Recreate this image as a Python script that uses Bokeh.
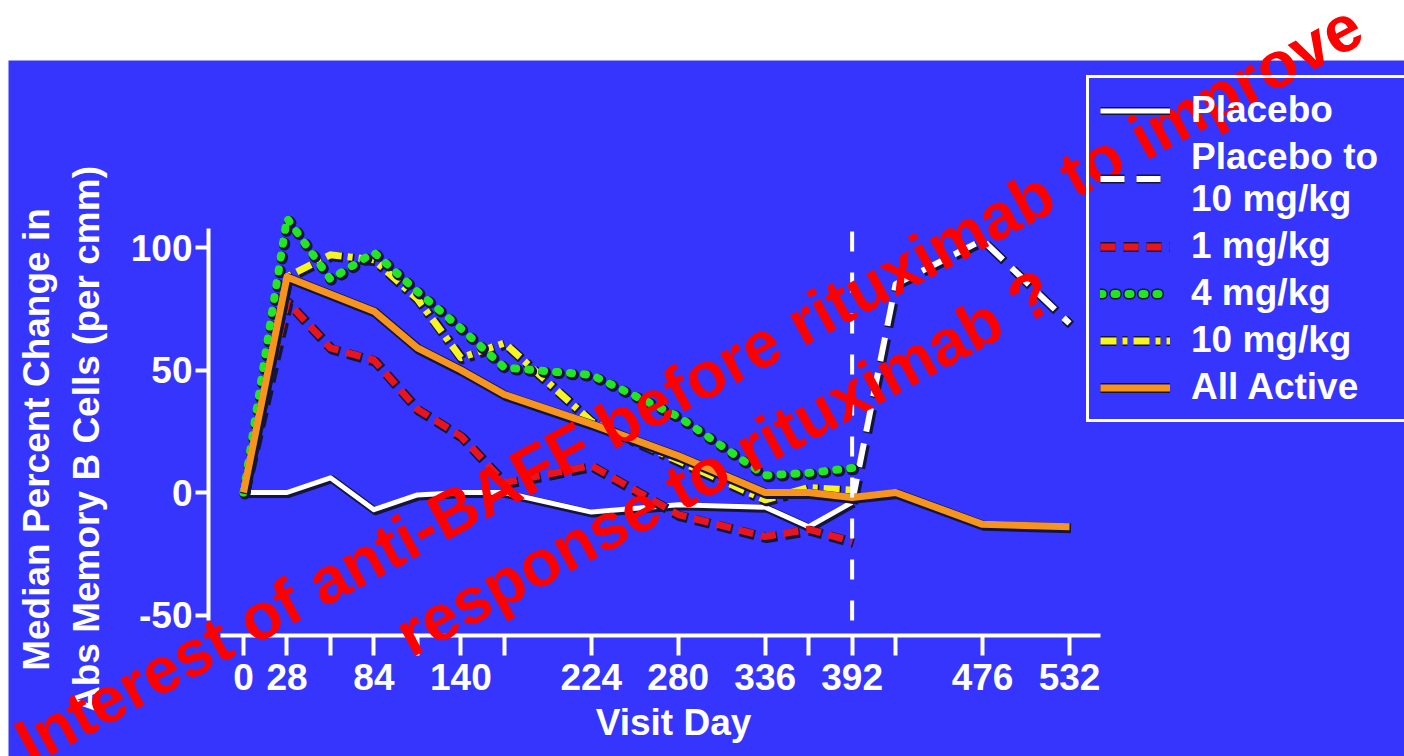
from bokeh.plotting import figure
from bokeh.models import Range1d, LinearAxis, FixedTicker, Legend, LegendItem, Label
from bokeh.embed import file_html
from bokeh.resources import INLINE

# ---------------- data ----------------
placebo_days = [0, 28, 56, 84, 112, 140, 168, 224, 280, 336, 364, 392]
placebo_pct = [0, 0, 6, -7, -1, 0, 0, -8, -5, -6, -14, -4]

switch_days = [392, 420, 476, 532]
switch_pct = [-4, 85, 103, 69]

dose_days = [0, 28, 56, 84, 112, 140, 168, 224, 280, 336, 364, 392]
mg1_pct = [0, 78, 59, 54, 34, 23, 4, 11, -9, -18, -15, -20]
mg4_pct = [0, 112, 87, 98, 82, 67, 51, 48, 31, 7, 8, 10]
mg10_pct = [0, 88, 97, 95, 79, 55, 61, 29, 13, -3, 2, 1]

active_days = [0, 28, 84, 112, 140, 168, 224, 280, 336, 364, 392, 420, 476, 532]
active_pct = [0, 88, 74, 59, 50, 40, 28, 15, 0, 0, -2, 0, -13, -14]

labelled_days = [0, 28, 84, 140, 224, 280, 336, 392, 476, 532]
unlabelled_days = [56, 112, 168, 364, 420]
pct_ticks = [-50, 0, 50, 100]
switch_day = 392

# ---------------- page geometry ----------------
W, H = 1404, 756
X0_PX, PX_PER_DAY = 243.0, 826.0 / 532.0      # day 0 column, scale
Y0_PX, PX_PER_PCT = 492.0, 2.45               # 0 % row, scale


def day_at(px):
    return (px - X0_PX) / PX_PER_DAY


def pct_at(py):
    return (Y0_PX - py) / PX_PER_PCT


BLUE = "#3535FD"
FONT = "Liberation Sans"
SIZE = "37px"
SHADOW = "#14143C"

p = figure(width=W, height=H, output_backend="svg", toolbar_location=None,
           x_range=Range1d(day_at(0), day_at(W)),
           y_range=Range1d(pct_at(H), pct_at(0)),
           x_axis_type=None, y_axis_type=None, min_border=0)
p.outline_line_color = None
p.background_fill_color = "white"
p.border_fill_color = "white"

# blue slide panel
p.quad(left=[day_at(8)], right=[day_at(W)], top=[pct_at(60)], bottom=[pct_at(H)],
       fill_color=BLUE, line_color=None, level="image")


# ---------------- axes ----------------
def style_axis(ax):
    ax.axis_line_color = "white"
    ax.axis_line_width = 4
    ax.major_tick_line_color = "white"
    ax.major_tick_line_width = 4
    ax.minor_tick_line_color = "white"
    ax.minor_tick_line_width = 4
    ax.major_tick_in = 0
    ax.minor_tick_in = 0
    ax.major_label_text_color = "white"
    ax.major_label_text_font = FONT
    ax.major_label_text_font_style = "bold"
    ax.major_label_text_font_size = SIZE
    ax.axis_label_text_color = "white"
    ax.axis_label_text_font = FONT
    ax.axis_label_text_font_style = "bold"
    ax.axis_label_text_font_size = SIZE


xaxis = LinearAxis(fixed_location=pct_at(635), bounds=(day_at(220), day_at(1100)),
                   ticker=FixedTicker(ticks=labelled_days, minor_ticks=unlabelled_days))
style_axis(xaxis)
xaxis.major_tick_out = 20
xaxis.minor_tick_out = 20
xaxis.major_label_standoff = 8

# axis title, centred under the labelled part of the day axis
xtitle = LinearAxis(fixed_location=pct_at(635), bounds=(day_at(233), day_at(1113)),
                    ticker=FixedTicker(ticks=[]), axis_label="Visit Day")
style_axis(xtitle)
xtitle.axis_line_color = None
xtitle.major_tick_out = 0
xtitle.axis_label_standoff = 66

yaxis = LinearAxis(fixed_location=day_at(208), bounds=(pct_at(620), pct_at(228)),
                   ticker=FixedTicker(ticks=pct_ticks),
                   major_label_overrides={-50: "-50"})
style_axis(yaxis)
yaxis.major_tick_out = 13
yaxis.major_label_standoff = 3

# title of the value axis, centred a little below the axis line's midpoint
ytitle = LinearAxis(fixed_location=day_at(208), bounds=(pct_at(640), pct_at(238)),
                    ticker=FixedTicker(ticks=[]),
                    axis_label="Median Percent Change in\nAbs Memory B Cells (per cmm)")
style_axis(ytitle)
ytitle.axis_line_color = None
ytitle.major_tick_out = 0
ytitle.axis_label_standoff = 102

p.add_layout(xaxis, "below")
p.add_layout(xtitle, "below")
p.add_layout(yaxis, "left")
p.add_layout(ytitle, "left")

# ---------------- series ----------------
DX = 1.5 / PX_PER_DAY
DY = -1.5 / PX_PER_PCT


def series(days, pct, color, width, dash="solid", cap="butt"):
    sx = [d + DX for d in days]
    sy = [v + DY for v in pct]
    shade = p.line(sx, sy, line_color=SHADOW, line_width=width + 3, line_dash=dash,
                   line_cap=cap, line_join="round")
    main = p.line(days, pct, line_color=color, line_width=width, line_dash=dash,
                  line_cap=cap, line_join="round")
    return [shade, main]


r_placebo = series(placebo_days, placebo_pct, "white", 5)
r_switch = series(switch_days, switch_pct, "white", 6, dash="24 12")
r_mg1 = series(dose_days, mg1_pct, "#E8141E", 7, dash="15 8")
r_mg10 = series(dose_days, mg10_pct, "#F6F422", 7, dash="16 6 5 6")
r_mg4 = series(dose_days, mg4_pct, "#22E622", 8, dash="2 12", cap="round")
r_active = series(active_days, active_pct, "#F7941E", 7)

# switch-over marker at day 392
p.segment(x0=[switch_day], y0=[pct_at(620)], x1=[switch_day], y1=[pct_at(228)],
          line_color="white", line_width=4, line_dash="20 21")

# ---------------- legend (transparent box on the blue panel) ----------------
legend = Legend(items=[
    LegendItem(label="Placebo", renderers=r_placebo),
    LegendItem(label="Placebo to\n10 mg/kg", renderers=r_switch),
    LegendItem(label="1 mg/kg", renderers=r_mg1),
    LegendItem(label="4 mg/kg", renderers=r_mg4),
    LegendItem(label="10 mg/kg", renderers=r_mg10),
    LegendItem(label="All Active", renderers=r_active),
], location=(1086, 334))
legend.background_fill_alpha = 0.0
legend.border_line_color = "white"
legend.border_line_alpha = 1.0
legend.border_line_width = 3
legend.label_text_color = "white"
legend.label_text_font = FONT
legend.label_text_font_style = "bold"
legend.label_text_font_size = SIZE
legend.label_height = 41
legend.label_width = 230
legend.glyph_width = 70
legend.glyph_height = 41
legend.label_standoff = 21
legend.padding = 11
legend.spacing = 5
legend.margin = 0
p.add_layout(legend, "center")

# ---------------- overlay note ----------------
for txt, sx, sy in (("Interest of anti-BAFF before rituximab to improve", 20, 746),
                    ("response to rituximab ?", 400, 638)):
    p.add_layout(Label(x=day_at(sx), y=pct_at(sy), text=txt,
                       angle=28.5, angle_units="deg", text_color="#FF0000",
                       text_font=FONT, text_font_style="bold", text_font_size="65px",
                       text_align="left", text_baseline="alphabetic",
                       level="overlay"), "center")

open("out.html", "w").write(file_html(p, INLINE))
